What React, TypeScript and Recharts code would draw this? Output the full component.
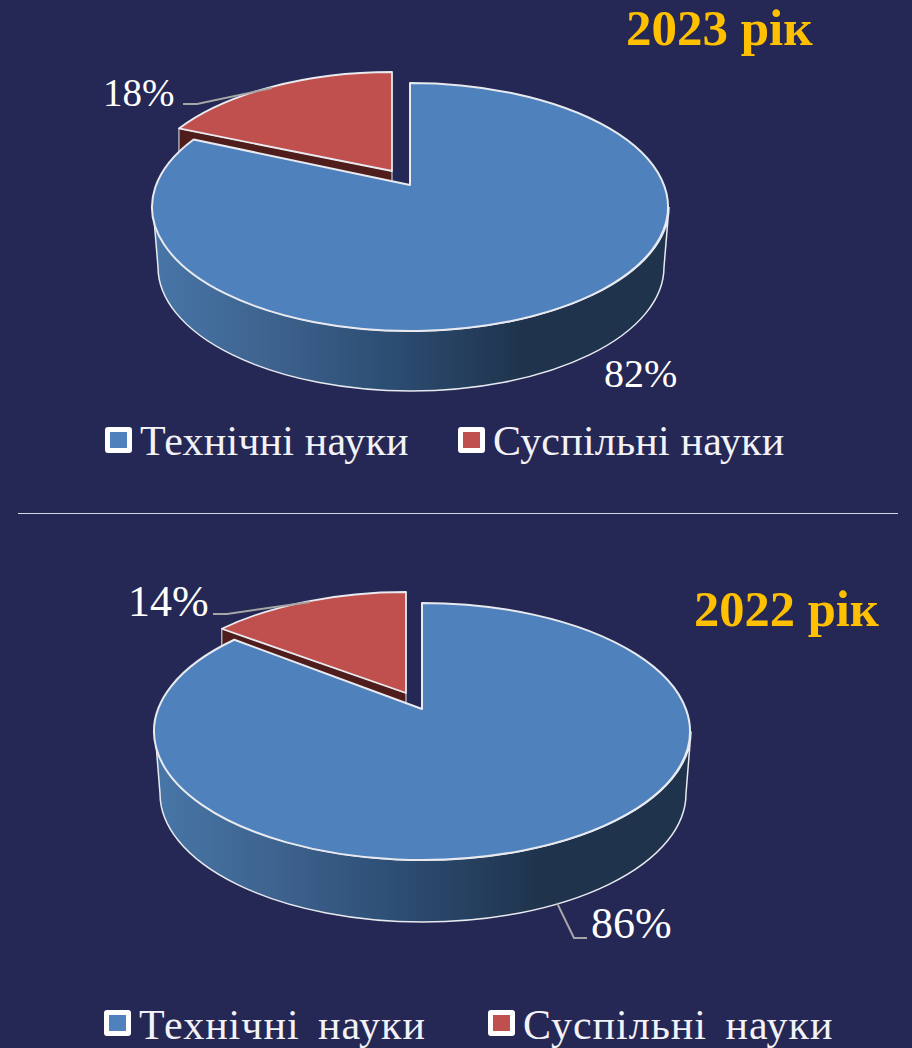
import { Legend, Pie, PieChart } from "recharts";

const categories = ["Технічні науки", "Суспільні науки"];
const shares2023 = [82, 18];
const shares2022 = [86, 14];
const sliceColors = ["#4F81BD", "#C0504D"];

const PAGE_BG = "#252754";
const OUTLINE = "#E8EAF0";
const SERIF = "'Liberation Serif', 'Times New Roman', serif";
const RAY_FLATTEN = 0.93; // cut lines look a bit flatter than the ellipse ratio

interface LabelSpot {
  x: number;
  y: number;
  size: number;
  leader?: string;
}

interface PanelConfig {
  id: string;
  title: string;
  titleX: number;
  titleBaseline: number;
  titleSize: number;
  shares: number[];
  apexX: number;
  apexY: number;
  rx: number;
  ry: number;
  tilt: number; // ellipse centre sits below the apex (perspective)
  depth: number;
  bottomRx: number;
  explode: { x: number; y: number; apexLift: number; shrink: number };
  labels: LabelSpot[];
  legendX: number[];
  iconTop: number;
  textBaseline: number;
  legendSize: number;
  letterSpacing: number;
  wordSpacing: number;
}

const panel2023: PanelConfig = {
  id: "p23",
  title: "2023 рік",
  titleX: 626,
  titleBaseline: 45,
  titleSize: 51,
  shares: shares2023,
  apexX: 410,
  apexY: 185,
  rx: 258,
  ry: 124,
  tilt: 22,
  depth: 60,
  bottomRx: 253,
  explode: { x: -18, y: -11, apexLift: -3, shrink: 4 },
  labels: [
    { x: 604, y: 387, size: 40 },
    { x: 103, y: 106, size: 39, leader: "183,104 197,104 272,88" },
  ],
  legendX: [105, 458],
  iconTop: 427,
  textBaseline: 455,
  legendSize: 42,
  letterSpacing: 0.2,
  wordSpacing: 0,
};

const panel2022: PanelConfig = {
  id: "p22",
  title: "2022 рік",
  titleX: 694,
  titleBaseline: 626,
  titleSize: 50.5,
  shares: shares2022,
  apexX: 422,
  apexY: 709,
  rx: 268,
  ry: 128.5,
  tilt: 22.5,
  depth: 62,
  bottomRx: 263,
  explode: { x: -16, y: -11, apexLift: -5, shrink: 5 },
  labels: [
    { x: 591, y: 938, size: 44, leader: "587,938 574,938 557,903" },
    { x: 128, y: 616, size: 44, leader: "213,614 227,614 310,602" },
  ],
  legendX: [104, 488],
  iconTop: 1010,
  textBaseline: 1039,
  legendSize: 42,
  letterSpacing: 1,
  wordSpacing: 7,
};

// where the ray at `angle` from the apex meets the ellipse of the top face
function rimPoint(angle: number, ry: number, rx: number, tilt: number) {
  const a = (angle * Math.PI) / 180;
  const d = tilt / ry;
  const c = Math.cos(a);
  const s = Math.sin(a) * RAY_FLATTEN;
  const qa = c * c + s * s;
  const qb = s * d;
  const t = (-qb + Math.sqrt(qb * qb - qa * (d * d - 1))) / qa;
  return { x: t * c * rx, y: -t * s * ry };
}

function makeSliceShape(cfg: PanelConfig) {
  return function SliceShape(props: any) {
    const { cx, cy, startAngle, endAngle, outerRadius, fill, index } = props;
    const { ry, tilt, depth, bottomRx, explode } = cfg;
    const isMain = index === 1; // rows are drawn small slice first
    const rx = isMain ? outerRadius : outerRadius - explode.shrink;
    const ox = isMain ? 0 : explode.x;
    const oy = isMain ? 0 : explode.y;
    const ax = cx + ox;
    const ay = cy + oy;
    const p0 = rimPoint(startAngle, ry, rx, tilt);
    const p1 = rimPoint(endAngle, ry, rx, tilt);
    const large = Math.abs(startAngle - endAngle) > 180 ? 1 : 0;
    const tipY = isMain ? ay : ay + explode.apexLift;
    const face = `M${ax},${tipY} L${ax + p0.x},${ay + p0.y} A${rx},${ry} 0 ${large} 1 ${ax + p1.x},${ay + p1.y} Z`;

    if (!isMain) {
      // dark cut face; the large slice is painted over its lower edge
      const drop = 36;
      const lx = ax + p0.x;
      const ly = ay + p0.y;
      return (
        <g>
          <path
            d={`M${lx},${ly} L${ax},${tipY} L${ax},${tipY + drop} L${lx},${ly + drop} Z`}
            fill="#4F1D1B"
            stroke={OUTLINE}
            strokeWidth={1}
          />
          <path d={face} fill={fill} stroke={OUTLINE} strokeWidth={1.8} strokeLinejoin="round" />
        </g>
      );
    }

    const ecx = cx + 1;
    const ecy = cy + tilt;
    const wall = `M${ecx - rx},${ecy} A${rx},${ry} 0 0 0 ${ecx + rx},${ecy} L${ecx + bottomRx},${ecy + depth} A${bottomRx},${ry} 0 0 1 ${ecx - bottomRx},${ecy + depth} Z`;
    const gradId = `wall-${cfg.id}`;
    return (
      <g>
        <defs>
          <linearGradient id={gradId} x1="0" y1="0" x2="1" y2="0">
            <stop offset="0%" stopColor="#4776A8" />
            <stop offset="20%" stopColor="#3F6591" />
            <stop offset="45%" stopColor="#2D4E74" />
            <stop offset="72%" stopColor="#1F334C" />
            <stop offset="100%" stopColor="#1F334C" />
          </linearGradient>
        </defs>
        <path d={wall} fill={`url(#${gradId})`} stroke={OUTLINE} strokeWidth={1.5} />
        <path d={face} fill={fill} stroke={OUTLINE} strokeWidth={2} strokeLinejoin="round" />
      </g>
    );
  };
}

function makeLabel(cfg: PanelConfig) {
  return function SliceLabel(props: any) {
    const { index, value } = props;
    const spot = cfg.labels[index === 1 ? 0 : 1];
    return (
      <g>
        {spot.leader && <polyline points={spot.leader} fill="none" stroke="#A6A6A6" strokeWidth={2} />}
        <text x={spot.x} y={spot.y} fill="#FFFFFF" fontFamily={SERIF} fontSize={spot.size} textAnchor="start">
          {`${value}%`}
        </text>
      </g>
    );
  };
}

function makeLegend(cfg: PanelConfig) {
  return function PanelLegend(props: any) {
    const items = [...(props.payload ?? [])].reverse();
    return (
      <div style={{ position: "relative", width: 912, height: 1048 }}>
        {items.map((item: any, i: number) => (
          <div key={item.value}>
            <div
              style={{
                position: "absolute",
                left: cfg.legendX[i],
                top: cfg.iconTop,
                width: 17,
                height: 16,
                background: item.color,
                border: "5px solid #FFFFFF",
                borderRadius: 3,
              }}
            />
            <svg
              width={912}
              height={1048}
              style={{ position: "absolute", left: 0, top: 0, overflow: "visible" }}
            >
              <text
                x={cfg.legendX[i] + 35}
                y={cfg.textBaseline}
                fill="#F2F2F7"
                fontFamily={SERIF}
                fontSize={cfg.legendSize}
                letterSpacing={cfg.letterSpacing}
                wordSpacing={cfg.wordSpacing}
              >
                {item.value}
              </text>
            </svg>
          </div>
        ))}
      </div>
    );
  };
}

function Panel({ cfg }: { cfg: PanelConfig }) {
  const rows = categories
    .map((name, i) => ({ name, value: cfg.shares[i], fill: sliceColors[i] }))
    .reverse();
  const startAngle = 90 + (360 * cfg.shares[1]) / 100;

  return (
    <div style={{ position: "absolute", left: 0, top: 0, width: 912, height: 1048 }}>
      <PieChart width={912} height={1048} margin={{ top: 0, right: 0, bottom: 0, left: 0 }}>
        <Pie
          data={rows}
          dataKey="value"
          nameKey="name"
          cx={cfg.apexX}
          cy={cfg.apexY}
          outerRadius={cfg.rx}
          startAngle={startAngle}
          endAngle={startAngle - 360}
          stroke="none"
          shape={makeSliceShape(cfg)}
          label={makeLabel(cfg)}
          labelLine={false}
          isAnimationActive={false}
        />
        <Legend
          content={makeLegend(cfg)}
          wrapperStyle={{ position: "absolute", left: 0, top: 0, width: 912, height: 1048, pointerEvents: "none" }}
        />
      </PieChart>
      <svg
        width={912}
        height={1048}
        style={{ position: "absolute", left: 0, top: 0, pointerEvents: "none" }}
      >
        <text
          x={cfg.titleX}
          y={cfg.titleBaseline}
          fill="#FFC000"
          fontFamily={SERIF}
          fontWeight="bold"
          fontSize={cfg.titleSize}
        >
          {cfg.title}
        </text>
      </svg>
    </div>
  );
}

export default function App() {
  return (
    <div
      style={{
        position: "absolute",
        left: 0,
        top: 0,
        width: 912,
        height: 1048,
        overflow: "hidden",
        background: PAGE_BG,
      }}
    >
      <Panel cfg={panel2023} />
      <div style={{ position: "absolute", left: 18, top: 513, width: 880, height: 1, background: "#D5D6E2" }} />
      <Panel cfg={panel2022} />
    </div>
  );
}
